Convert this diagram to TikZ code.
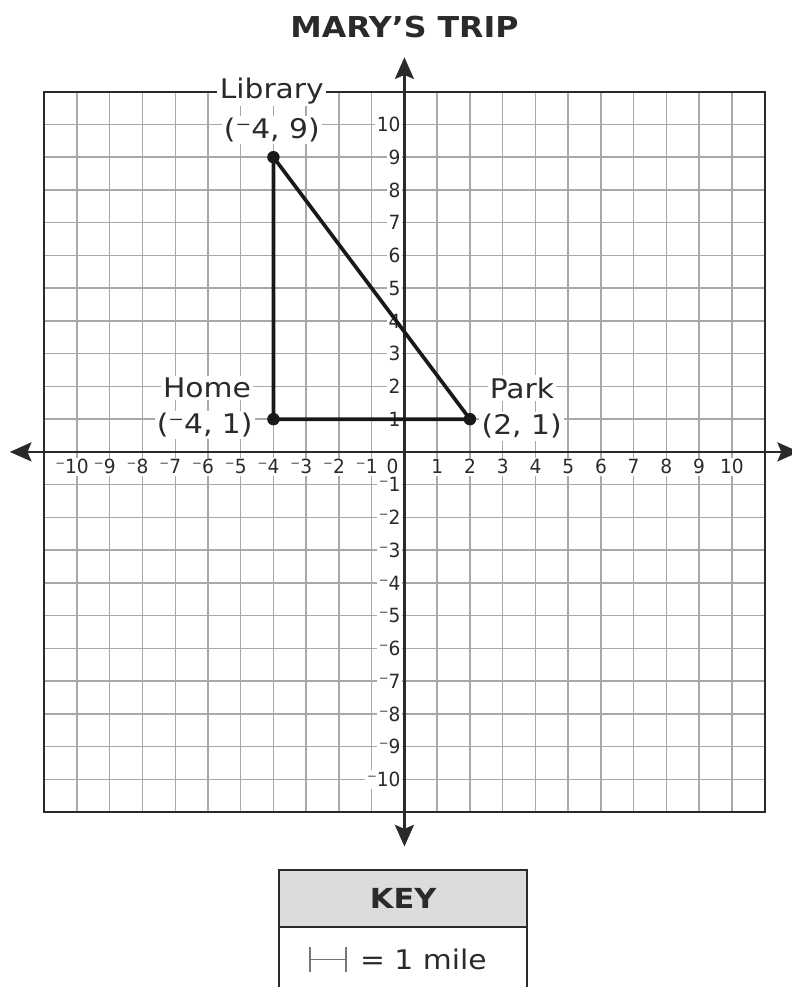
\documentclass[tikz,border=0pt]{standalone}
\usepackage{fontspec}
\setmainfont{DejaVu Sans}[FakeStretch=1.1]
\newfontfamily\axisfont{DejaVu Sans}[FakeStretch=0.95]
\usetikzlibrary{arrows.meta}
\definecolor{ink}{HTML}{2A2A2A}
\definecolor{gridc}{HTML}{A8A8A8}
\definecolor{keyfill}{HTML}{DCDCDC}
\tikzset{
  gridline/.style={draw=gridc, line width=1.2pt},
  frame/.style={draw=ink, line width=1.8pt},
  axis/.style={draw=ink, line width=2.2pt, {Stealth[length=0.66cm,width=0.58cm,inset=0.12cm]}-{Stealth[length=0.66cm,width=0.58cm,inset=0.12cm]}},
  tri/.style={draw=black!90, line width=3.2pt, line join=round},
  dot/.style={circle, fill=black!90, inner sep=0pt, minimum size=0.38cm},
  xlab/.style={fill=white, inner sep=1.5pt, font=\axisfont\fontsize{17}{19}\selectfont, text=ink},
  ylab/.style={fill=white, inner sep=1.5pt, anchor=east, font=\axisfont\fontsize{17}{19}\selectfont, text=ink},
  ptlab/.style={fill=white, inner sep=2pt, font=\fontsize{23.5}{27}\selectfont, text=ink},
}
\begin{document}
\begin{tikzpicture}[x=1cm,y=1cm]
\useasboundingbox (-12.35,-16.34) rectangle (11.83,13.80);
% title
\node[font=\fontsize{25}{30}\selectfont\bfseries, text=ink] (title) at (0,12.98) {MARY’S TRIP};
% grid
\draw[gridline, step=1] (-11,-11) grid (11,11);
\draw[frame] (-11,-11) rectangle (11,11);
% axes
\coordinate (xl) at (-12.05,0);
\coordinate (xr) at (12.05,0);
\coordinate (yb) at (0,-12.05);
\coordinate (yt) at (0,12.05);
\draw[axis] (xl) -- (xr);
\draw[axis] (yb) -- (yt);
% x labels
\foreach \i in {1,...,10} {
  \node[xlab] (xp\i) at (\i,-0.45) {\i};
  \node[xlab] (xn\i) at (-\i,-0.45) {\llap{⁻}\i};
}
\node[xlab] (x0) at (-0.36,-0.45) {0};
% y labels
\foreach \i in {1,...,10} {
  \node[ylab] (yp\i) at (-0.06,\i) {\i};
  \node[ylab] (yn\i) at (-0.06,-\i) {⁻\i};
}
% points
\coordinate (lib) at (-4,9);
\coordinate (home) at (-4,1);
\coordinate (park) at (2,1);
\draw[tri] (lib) -- (home) -- (park) -- cycle;
\node[dot] (libdot) at (lib) {};
\node[dot] (homedot) at (home) {};
\node[dot] (parkdot) at (park) {};
% point labels
\node[ptlab] (libname) at (-4.05,11.02) {Library};
\node[ptlab] (libcoord) at (-4.05,9.83) {(⁻4, 9)};
\node[ptlab] (homename) at (-6.03,1.95) {Home};
\node[ptlab] (homecoord) at (-6.1,0.82) {(⁻4, 1)};
\node[ptlab] (parkname) at (3.59,1.95) {Park};
\node[ptlab] (parkcoord) at (3.58,0.78) {(2, 1)};
% key
\draw[frame, fill=keyfill] (-3.83,-12.76) rectangle (3.74,-14.50);
\draw[frame, fill=white] (-3.83,-14.50) rectangle (3.74,-17.2);
\node[font=\fontsize{24}{28}\selectfont\bfseries, text=ink] (keyhead) at (-0.04,-13.62) {KEY};
\coordinate (ka) at (-2.88,-15.5);
\coordinate (kb) at (-1.79,-15.5);
\draw[draw=gridc!70!black, line width=1.3pt] (ka) -- (kb);
\draw[draw=gridc!70!black, line width=1.3pt] ([yshift=0.38cm]ka) -- ([yshift=-0.38cm]ka);
\draw[draw=gridc!70!black, line width=1.3pt] ([yshift=0.38cm]kb) -- ([yshift=-0.38cm]kb);
\node[anchor=base west, inner sep=0pt, font=\fontsize{23.5}{27}\selectfont, text=ink] (keytext) at (-1.36,-15.82) {= 1 mile};
\end{tikzpicture}
\end{document}
